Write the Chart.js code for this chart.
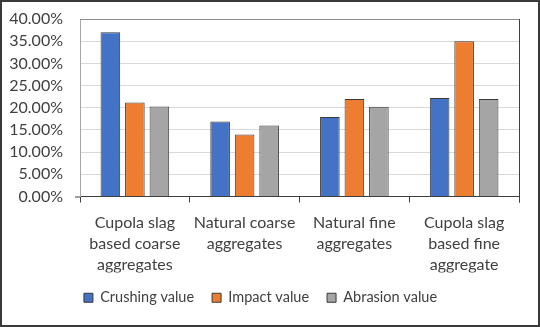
<!DOCTYPE html>
<html>
<head>
<meta charset="utf-8">
<script src="https://cdn.jsdelivr.net/npm/chart.js@4.4.1/dist/chart.umd.min.js"></script>
<style>
  html, body { margin: 0; padding: 0; background: #fff; }
  #frame {
    width: 540px; height: 327px; box-sizing: border-box;
    border: 2px solid #3a3a3a; background: #fff;
  }
  #chart { display: block; }
</style>
</head>
<body>
<div id="frame"><canvas id="chart" width="536" height="323"></canvas></div>
<script>
// Aggregate test results (%)
const categories = [
    ['Cupola slag', 'based coarse', 'aggregates'],
    ['Natural coarse', 'aggregates'],
    ['Natural fine', 'aggregates'],
    ['Cupola slag', 'based fine', 'aggregate']
];
const crushingValue = [37.0, 16.9, 17.9, 22.2];
const impactValue = [21.2, 14.0, 22.0, 35.0];
const abrasionValue = [20.3, 16.0, 20.2, 22.0];
const yTicks = [0, 5, 10, 15, 20, 25, 30, 35, 40];

const textColor = '#404040';
const fontFamily = 'Lato, "Noto Sans", sans-serif';

// Top/right border around the plot area
const plotBorder = {
    id: 'plotBorder',
    afterDraw(chart) {
        const { ctx, chartArea: a } = chart;
        ctx.save();
        ctx.lineWidth = 1;
        ctx.strokeStyle = '#8c8c8c';
        ctx.beginPath();
        ctx.moveTo(a.left, a.top + 0.5);
        ctx.lineTo(a.right + 0.5, a.top + 0.5);
        ctx.stroke();
        ctx.strokeStyle = '#3f3f3f';
        ctx.beginPath();
        ctx.moveTo(a.right + 0.5, a.top);
        ctx.lineTo(a.right + 0.5, a.bottom + 6);
        ctx.stroke();
        // short stub of the base line left of the value axis
        ctx.beginPath();
        ctx.moveTo(a.left - 5, a.bottom + 0.5);
        ctx.lineTo(a.left, a.bottom + 0.5);
        ctx.stroke();
        ctx.restore();
    }
};

const ctx = document.getElementById('chart').getContext('2d');

new Chart(ctx, {
    type: 'bar',
    data: {
        labels: categories,
        datasets: [
            { label: 'Crushing value', data: crushingValue, backgroundColor: '#4472C4' },
            { label: 'Impact value', data: impactValue, backgroundColor: '#ED7D31' },
            { label: 'Abrasion value', data: abrasionValue, backgroundColor: '#A5A5A5' }
        ].map(d => Object.assign(d, {
            borderColor: '#3a3a3a',
            borderWidth: 1,
            categoryPercentage: 0.67,
            barPercentage: 0.8
        }))
    },
    options: {
        responsive: false,
        animation: false,
        layout: { padding: { top: 17, right: 19, left: 0, bottom: 10 } },
        plugins: {
            tooltip: { enabled: false },
            legend: {
                position: 'bottom',
                labels: {
                    boxWidth: 9,
                    boxHeight: 9,
                    padding: 18,
                    color: textColor,
                    font: { family: fontFamily, size: 14.5 }
                }
            }
        },
        scales: {
            x: {
                grid: {
                    drawOnChartArea: false,
                    drawTicks: true,
                    tickLength: 6,
                    color: '#3f3f3f'
                },
                border: { color: '#3f3f3f' },
                ticks: {
                    color: textColor,
                    padding: 10,
                    maxRotation: 0,
                    autoSkip: false,
                    font: { family: fontFamily, size: 16, lineHeight: 1.3 }
                },
                afterFit(scale) { scale.height = 76; }
            },
            y: {
                min: 0,
                max: 40,
                afterBuildTicks(scale) { scale.ticks = yTicks.map(v => ({ value: v })); },
                grid: { color: '#d9d9d9', drawTicks: true, tickLength: 17, tickColor: 'rgba(0,0,0,0)' },
                border: { color: '#a6a6a6' },
                ticks: {
                    color: textColor,
                    padding: 0,
                    autoSkip: false,
                    font: { family: fontFamily, size: 16 },
                    callback: v => v.toFixed(2) + '%'
                },
                afterFit(scale) { scale.width = 78; }
            }
        }
    },
    plugins: [plotBorder]
});
</script>
</body>
</html>
